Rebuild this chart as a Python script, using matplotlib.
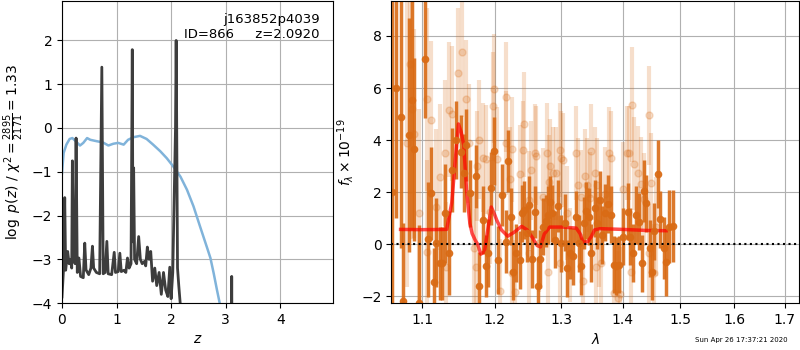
import numpy as np
import matplotlib
matplotlib.use('Agg')
import matplotlib.pyplot as plt
from matplotlib.ticker import FixedLocator, FixedFormatter, NullLocator

# p(z) panel
z_pz = [0.0, 0.03, 0.05, 0.067, 0.104, 0.13, 0.153, 0.178, 0.19, 0.21, 0.24, 0.258, 0.28, 0.31,
        0.34, 0.39, 0.417, 0.44, 0.49, 0.53, 0.558, 0.58, 0.63, 0.69, 0.73, 0.755, 0.79, 0.822,
        0.846, 0.91, 0.957, 0.98, 1.03, 1.06, 1.086, 1.135, 1.17, 1.20, 1.23, 1.265, 1.288,
        1.30, 1.313, 1.33, 1.368, 1.405, 1.436, 1.47, 1.51, 1.534, 1.564, 1.595, 1.626, 1.66,
        1.70, 1.736, 1.78, 1.82, 1.86, 1.90, 1.94, 1.975, 2.0, 2.03, 2.08, 2.092, 2.10, 2.117,
        2.14, 2.166, 2.19, 3.09, 3.11, 3.13, 4.97]
logp = [-3.86, -3.18, -1.59, -3.25, -2.82, -3.1, -3.0, -3.2, -0.75, -3.0, -3.1, -0.23, -3.3, -2.97,
        -3.39, -3.42, -2.63, -3.24, -3.35, -3.2, -2.70, -3.2, -3.3, -3.33, 1.39, -3.33, -3.3, -2.59,
        -3.33, -3.35, -2.84, -3.3, -3.28, -2.86, -3.28, -3.25, -3.3, -2.97, -3.2, -3.1, 1.79,
        -2.6, -0.91, -3.0, -3.1, -2.48, -3.0, -3.1, -3.05, -3.15, -2.72, -3.0, -2.82, -3.5,
        -3.2, -3.6, -3.3, -3.8, -3.3, -3.7, -3.85, -3.18, -3.9, -3.3, 0.0, 2.0, 0.5, -3.2,
        -3.6, -4.0, -9.0, -9.0, -3.39, -9.0, -9.0]

z_prior = [0.0, 0.03, 0.08, 0.14, 0.19, 0.25, 0.33, 0.39, 0.46, 0.52, 0.63, 0.75, 0.85, 0.94,
           1.03, 1.13, 1.21, 1.31, 1.43, 1.55, 1.67, 1.80, 1.92, 2.04, 2.17, 2.29, 2.41, 2.53,
           2.66, 2.72, 2.78, 2.84, 2.89, 2.95]
logprior = [-1.03, -0.57, -0.38, -0.25, -0.23, -0.30, -0.40, -0.34, -0.23, -0.27, -0.30, -0.33,
            -0.40, -0.36, -0.34, -0.38, -0.27, -0.21, -0.18, -0.25, -0.38, -0.53, -0.69, -0.88,
            -1.11, -1.41, -1.79, -2.25, -2.74, -2.97, -3.32, -3.70, -4.0, -4.4]

# spectrum panel, binned (dark) points
wave = [1.0607, 1.0655, 1.0722, 1.0752, 1.0830, 1.0873, 1.0895, 1.0960, 1.1040, 1.1079, 1.1115,
        1.1155, 1.1191, 1.1236, 1.1272, 1.1303, 1.1362, 1.1407, 1.1453, 1.1531, 1.1568, 1.1601,
        1.1657, 1.1741, 1.1774, 1.1836, 1.1874, 1.1907, 1.1955, 1.1993, 1.2051, 1.2109, 1.2162,
        1.2196, 1.2245, 1.2270, 1.2319, 1.2368, 1.2408, 1.2433, 1.2478, 1.2508, 1.2558, 1.2598,
        1.2648, 1.2679, 1.2719, 1.2760, 1.2796, 1.2822, 1.2863, 1.2899, 1.2951, 1.3003, 1.3053,
        1.3094, 1.3142, 1.3184, 1.3237, 1.3279, 1.3316, 1.3359, 1.3396, 1.3434, 1.3477, 1.3531,
        1.3574, 1.3612, 1.3656, 1.3694, 1.3749, 1.3804, 1.3843, 1.3887, 1.3932, 1.3999, 1.4083,
        1.4128, 1.4179, 1.4224, 1.4281, 1.4321, 1.4367, 1.4396, 1.4465, 1.4500, 1.4540, 1.4599,
        1.4646, 1.4704, 1.4746, 1.4793, 1.4864]
flux = [2.0, 6.0, 4.87, -2.17, 4.19, 5.53, 3.64, -2.26, 7.13, 0.19, 1.95,
        -1.46, 0.06, -0.73, -0.73, 1.19, -0.34, 2.85, 4.00, 3.55, 2.72, 3.81,
        1.95, 2.61, -1.60, 0.93, -0.83, -0.34, 2.15, 3.57, -0.60, 1.89, 0.10,
        3.19, 1.06, -1.05, -0.34, -0.60, 1.19, 1.32, 0.42, 1.51, -0.57, 1.23,
        -1.60, -0.57, 0.68, 0.91, 1.12, 1.64, 1.19, 0.17, 1.47, 0.04, 0.83,
        -0.92, -0.34, -0.47, 1.06, 0.04, -0.83, 0.81, 1.29, 1.06, -0.34, 1.38,
        0.83, 1.70, 0.36, 1.21, 1.55, 1.13, -0.79, -0.83, -0.79, 0.29, 1.25,
        0.29, -0.34, 1.12, 0.87, -0.73, 2.04, 1.57, -0.15, -1.05, 0.49, 2.70,
        0.96, -0.15, -0.70, 0.68, 0.70]
err = [12.0, 5.0, 5.0, 3.0, 4.5, 5.0, 3.5, 3.0, 2.3, 2.2, 1.8,
       1.3, 1.7, 1.4, 1.4, 1.9, 1.6, 1.6, 1.5, 1.4, 1.5, 1.4,
       1.3, 1.2, 1.3, 1.3, 1.2, 1.3, 1.4, 1.3, 1.3, 1.2, 1.2,
       1.2, 1.1, 1.1, 1.1, 1.1, 1.1, 1.1, 1.1, 1.1, 1.1, 1.0,
       1.1, 1.1, 1.1, 1.0, 1.1, 1.0, 1.1, 1.1, 1.0, 1.1, 1.1,
       1.1, 1.0, 1.1, 1.0, 1.1, 1.1, 1.0, 1.1, 1.1, 1.1, 1.1,
       1.0, 1.1, 1.1, 1.1, 1.1, 1.1, 1.1, 1.1, 1.1, 1.1, 1.1,
       1.1, 1.1, 1.1, 1.1, 1.1, 1.2, 1.1, 1.1, 1.1, 1.1, 1.3,
       1.1, 1.2, 1.3, 1.4, 1.4]

# unbinned (light) points
wave_l = [1.0804, 1.0839, 1.0869, 1.0891, 1.0956, 1.1066, 1.1071, 1.1115, 1.1191, 1.1236,
          1.1303, 1.1326, 1.1362, 1.1407, 1.1481, 1.1545, 1.1601, 1.1638, 1.1703, 1.1741,
          1.1750, 1.1778, 1.1836, 1.1882, 1.1930, 1.1978, 1.1993, 1.2040, 1.2083, 1.2162,
          1.2171, 1.2219, 1.2259, 1.2259, 1.2298, 1.2368, 1.2417, 1.2436, 1.2508, 1.2508,
          1.2541, 1.2591, 1.2617, 1.2657, 1.2719, 1.2779, 1.2796, 1.2810, 1.2830, 1.2871,
          1.2923, 1.2975, 1.2975, 1.2990, 1.3027, 1.3089, 1.3131, 1.3237, 1.3263, 1.3316,
          1.3343, 1.3370, 1.3412, 1.3450, 1.3477, 1.3531, 1.3558, 1.3569, 1.3601, 1.3640,
          1.3705, 1.3766, 1.3804, 1.3843, 1.3915, 1.3954, 1.3999, 1.4072, 1.4111, 1.4140,
          1.4151, 1.4196, 1.4253, 1.4310, 1.4367, 1.4442, 1.4453, 1.4482, 1.4540, 1.4570]
flux_l = [3.87, 6.93, 5.21, 4.25, 1.19, -0.28, 5.56, 4.79, 1.44, 2.59,
          3.49, -0.86, 5.17, 5.02, 6.58, 7.38, 5.56, 3.87, -0.15, -0.86,
          3.01, 4.02, 3.32, 3.26, 1.25, 5.30, 5.98, 3.26, -1.81, 5.66,
          3.90, 2.49, 3.64, -1.11, -1.85, 2.69, 3.61, 4.60, 1.70, -0.34,
          2.85, 3.49, 3.40, 0.06, 1.80, 3.52, -1.05, 2.40, 3.01, 2.72,
          2.72, 3.61, -0.73, 3.30, 3.23, 1.19, -0.41, 3.51, 2.27, 1.83,
          -1.40, 2.62, 2.27, 1.76, 3.59, 2.72, -0.86, 2.27, 0.17, -0.73,
          1.93, 3.49, 3.30, -1.88, -2.07, -1.90, 2.11, 3.51, 3.51, -1.05,
          5.36, 3.10, 2.75, 2.30, 1.72, 4.96, -0.34, 2.36, -1.11, 0.68]
err_l = [5.5, 5.0, 5.0, 4.0, 4.0, 3.5, 3.5, 3.0, 3.0, 2.8,
         2.8, 2.5, 2.6, 2.6, 2.5, 2.5, 2.3, 2.3, 2.2, 2.2,
         2.1, 2.3, 2.1, 2.1, 2.0, 2.1, 2.1, 2.0, 2.0, 2.1,
         2.0, 2.0, 2.0, 2.0, 2.0, 1.9, 1.9, 2.0, 1.9, 1.9,
         1.9, 1.9, 1.9, 1.9, 1.9, 1.9, 1.8, 1.8, 1.8, 1.8,
         1.8, 1.8, 1.8, 1.8, 1.8, 1.8, 1.8, 1.8, 1.8, 1.8,
         1.8, 1.8, 1.8, 1.8, 1.8, 1.8, 1.8, 1.8, 1.8, 1.8,
         1.8, 1.8, 1.8, 1.8, 1.8, 1.8, 1.8, 1.8, 1.8, 1.8,
         2.2, 1.8, 1.8, 1.8, 1.8, 1.9, 1.9, 1.9, 1.9, 1.9]

# model
wave_m = [1.072, 1.10, 1.133, 1.140, 1.145, 1.1491, 1.1530, 1.1565, 1.1604, 1.1650, 1.1682,
          1.1726, 1.1760, 1.1804, 1.1856, 1.1900, 1.1953, 1.2000, 1.2033, 1.2100, 1.2191,
          1.2280, 1.2397, 1.2480, 1.2560, 1.2630, 1.2680, 1.2740, 1.2822, 1.3027, 1.3237,
          1.3300, 1.3343, 1.3422, 1.3480, 1.3531, 1.3612, 1.3999, 1.4396, 1.4746]
flux_m = [0.57, 0.56, 0.57, 1.6, 3.3, 4.62, 4.3, 3.8, 2.07, 0.8, 0.41,
          0.15, 0.0, -0.38, -0.29, 0.5, 1.43, 1.15, 0.92, 0.55, 0.31,
          0.45, 0.69, 0.55, 0.25, -0.05, -0.1, 0.4, 0.66, 0.66, 0.62,
          0.4, 0.08, 0.1, 0.3, 0.55, 0.60, 0.57, 0.53, 0.52]

wave_ticks = [1.1, 1.2, 1.3, 1.4, 1.5, 1.6, 1.7]
orange = '#d96b15'

fig = plt.figure(figsize=(8, 3.5), dpi=100)

ax = fig.add_axes([0.0775, 0.134, 0.339, 0.863])
ax.plot(z_prior, logprior, color='#80b3da', lw=1.8)
ax.plot(z_pz, logp, color='#3d3d3d', lw=2)
ax.set_xlim(0, 4.97)
ax.set_ylim(-4, 2.9)
ax.set_xticks([0, 1, 2, 3, 4])
ax.set_yticks([-4, -3, -2, -1, 0, 1, 2])
ax.grid(True)
ax.set_xlabel('$z$')
ax.set_ylabel(r'$\log\ p(z)$ / $\chi^2=\frac{2895}{2171}=1.33$')
ax.text(0.95, 0.96, 'j163852p4039\nID=866     z=2.0920', transform=ax.transAxes,
        ha='right', va='top', fontsize=9.5)

ax2 = fig.add_axes([0.489, 0.134, 0.51, 0.863])
ax2.set_xscale('log')
ax2.errorbar(wave_l, flux_l, yerr=err_l, fmt='o', color=orange, alpha=0.22,
             ms=5, lw=3, elinewidth=3, capsize=0)
ax2.errorbar(wave, flux, yerr=err, fmt='o', color=orange, alpha=0.9,
             ms=4.5, lw=2.5, elinewidth=2.5, capsize=0)
ax2.plot(wave_m, flux_m, color='r', alpha=0.7, lw=2.5)
ax2.axhline(0, color='k', ls=':', lw=1.5)
ax2.set_xlim(1.06, 1.73)
ax2.set_ylim(-2.26, 9.34)
ax2.xaxis.set_major_locator(FixedLocator(wave_ticks))
ax2.xaxis.set_major_formatter(FixedFormatter([str(w) for w in wave_ticks]))
ax2.xaxis.set_minor_locator(NullLocator())
ax2.set_yticks([-2, 0, 2, 4, 6, 8])
ax2.grid(True)
ax2.set_xlabel(r'$\lambda$')
ax2.set_ylabel(r'$f_\lambda\times10^{-19}$')

fig.text(0.984, 0.028, 'Sun Apr 26 17:37:21 2020', ha='right', va='center', fontsize=5)

fig.savefig('out.png', dpi=100)
